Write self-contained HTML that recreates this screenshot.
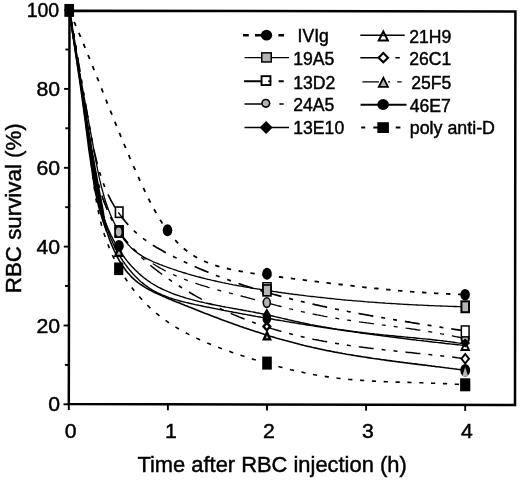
<!DOCTYPE html>
<html><head><meta charset="utf-8"><title>RBC survival</title>
<style>html,body{margin:0;padding:0;background:#fff}body{width:520px;height:480px;overflow:hidden}</style></head>
<body>
<svg width="520" height="480" viewBox="0 0 520 480" style="display:block;font-family:'Liberation Sans',Arial,sans-serif">
<rect width="520" height="480" fill="#fff"/>
<g fill="none" stroke="#000" stroke-linecap="butt" stroke-linejoin="round">
<path d="M69.3 10.8 L70.0 12.4 L70.7 14.1 L71.5 15.7 L72.2 17.3 L72.9 18.9 L73.6 20.5 L74.3 22.2 L75.0 23.8 L75.7 25.4 L76.4 27.0 L77.1 28.6 L77.8 30.2 L78.4 31.9 L79.1 33.5 L79.8 35.1 L80.5 36.7 L81.2 38.3 L81.8 39.9 L82.5 41.5 L83.2 43.1 L83.8 44.7 L84.5 46.3 L85.2 47.9 L85.8 49.5 L86.5 51.1 L87.1 52.7 L87.8 54.3 L88.4 55.9 L89.1 57.5 L89.7 59.1 L90.4 60.7 L91.0 62.3 L91.7 63.9 L92.3 65.5 L93.0 67.1 L93.6 68.7 L94.2 70.3 L94.9 71.9 L95.5 73.5 L96.1 75.1 L96.8 76.7 L97.4 78.2 L98.1 79.8 L98.7 81.4 L99.3 83.0 L100.0 84.6 L100.6 86.2 L101.2 87.8 L101.9 89.4 L102.5 91.0 L103.1 92.5 L103.8 94.1 L104.4 95.7 L105.0 97.3 L105.6 98.9 L106.3 100.5 L106.9 102.1 L107.5 103.7 L108.2 105.2 L108.8 106.8 L109.5 108.4 L110.1 110.0 L110.7 111.6 L111.4 113.2 L112.0 114.8 L112.6 116.4 L113.3 117.9 L113.9 119.5 L114.6 121.1 L115.2 122.7 L115.9 124.3 L116.5 125.9 L117.1 127.5 L117.8 129.1 L118.4 130.7 L119.1 132.3 L119.8 133.8 L120.4 135.4 L121.1 137.0 L121.7 138.6 L122.4 140.2 L123.1 141.8 L123.7 143.4 L124.4 145.0 L125.1 146.6 L125.7 148.2 L126.4 149.8 L127.1 151.4 L127.8 153.0 L128.5 154.6 L129.2 156.2 L129.8 157.8 L130.5 159.4 L131.2 161.0 L131.9 162.6 L132.6 164.2 L133.3 165.8 L134.0 167.4 L134.8 169.0 L135.5 170.6 L136.2 172.2 L136.9 173.8 L137.6 175.5 L138.4 177.1 L139.1 178.7 L139.8 180.3 L140.6 181.9 L141.3 183.5 L142.1 185.2 L142.8 186.8 L143.6 188.4 L144.3 190.0 L145.1 191.6 L145.9 193.2 L146.7 194.9 L147.4 196.5 L148.2 198.1 L149.0 199.7 L149.8 201.3 L150.7 202.9 L151.5 204.5 L152.3 206.1 L153.2 207.6 L154.0 209.2 L154.9 210.8 L155.7 212.3 L156.6 213.9 L157.5 215.4 L158.4 216.9 L159.3 218.4 L160.2 219.9 L161.2 221.4 L162.1 222.9 L163.1 224.4 L164.0 225.8 L165.0 227.2 L166.0 228.7 L167.0 230.1 L167.6 230.8" style="stroke-width:1.8;stroke-dasharray:4.4 7.6"/>
<path d="M167.6 230.8 L168.0 231.5 L169.1 232.8 L170.1 234.2 L171.2 235.5 L172.3 236.8 L173.4 238.1 L174.5 239.4 L175.7 240.6 L176.8 241.9 L178.0 243.1 L179.2 244.2 L180.4 245.4 L181.6 246.5 L182.8 247.7 L184.1 248.7 L185.4 249.8 L186.7 250.8 L188.0 251.9 L189.4 252.8 L190.7 253.8 L192.1 254.7 L193.5 255.6 L194.9 256.5 L196.4 257.3 L197.9 258.1 L199.4 258.9 L200.9 259.6 L202.4 260.4 L203.9 261.0 L205.5 261.7 L207.1 262.4 L208.7 263.0 L210.3 263.6 L211.9 264.2 L213.5 264.7 L215.2 265.3 L216.8 265.8 L218.5 266.3 L220.2 266.7 L221.9 267.2 L223.6 267.6 L225.3 268.1 L227.0 268.5 L228.7 268.9 L230.4 269.3 L232.1 269.6 L233.9 270.0 L235.6 270.4 L237.3 270.7 L239.0 271.0 L240.8 271.3 L242.5 271.6 L244.2 271.9 L246.0 272.2 L247.7 272.5 L249.4 272.8 L251.2 273.1 L252.9 273.3 L254.6 273.6 L256.3 273.9 L258.1 274.1 L259.8 274.3 L261.5 274.6 L263.3 274.8 L265.0 275.0 L266.7 275.3 L267.0 275.3" style="stroke-width:1.8;stroke-dasharray:4.4 7.6"/>
<path d="M267.0 275.3 L268.5 275.5 L270.2 275.7 L271.9 275.9 L273.7 276.2 L275.4 276.4 L277.1 276.6 L278.8 276.8 L280.6 277.0 L282.3 277.3 L284.0 277.5 L285.8 277.7 L287.5 277.9 L289.2 278.1 L290.9 278.3 L292.7 278.6 L294.4 278.8 L296.1 279.0 L297.8 279.2 L299.5 279.4 L301.3 279.7 L303.0 279.9 L304.7 280.1 L306.4 280.3 L308.2 280.5 L309.9 280.7 L311.6 281.0 L313.3 281.2 L315.0 281.4 L316.8 281.6 L318.5 281.8 L320.2 282.0 L321.9 282.2 L323.6 282.4 L325.3 282.7 L327.1 282.9 L328.8 283.1 L330.5 283.3 L332.2 283.5 L333.9 283.7 L335.6 283.9 L337.4 284.1 L339.1 284.3 L340.8 284.5 L342.5 284.7 L344.2 284.9 L346.0 285.1 L347.7 285.3 L349.4 285.5 L351.1 285.7 L352.8 285.9 L354.5 286.1 L356.3 286.3 L358.0 286.5 L359.7 286.7 L361.4 286.9 L363.1 287.1 L364.8 287.3 L366.6 287.5 L368.3 287.6 L370.0 287.8 L371.7 288.0 L373.4 288.2 L375.1 288.4 L376.9 288.5 L378.6 288.7 L380.3 288.9 L382.0 289.1 L383.7 289.2 L385.5 289.4 L387.2 289.6 L388.9 289.7 L390.6 289.9 L392.3 290.0 L394.1 290.2 L395.8 290.4 L397.5 290.5 L399.2 290.7 L401.0 290.8 L402.7 291.0 L404.4 291.1 L406.1 291.2 L407.9 291.4 L409.6 291.5 L411.3 291.7 L413.0 291.8 L414.8 291.9 L416.5 292.0 L418.2 292.2 L420.0 292.3 L421.7 292.4 L423.4 292.5 L425.2 292.6 L426.9 292.8 L428.6 292.9 L430.4 293.0 L432.1 293.1 L433.8 293.2 L435.6 293.3 L437.3 293.4 L439.0 293.5 L440.8 293.6 L442.5 293.6 L444.3 293.7 L446.0 293.8 L447.7 293.9 L449.5 294.0 L451.2 294.0 L453.0 294.1 L454.7 294.2 L456.5 294.2 L458.2 294.3 L460.0 294.3 L461.7 294.4 L463.5 294.4 L465.2 294.5" style="stroke-width:1.8;stroke-dasharray:4.4 7.6"/>
<path d="M69.3 10.8 L69.6 12.8 L69.9 14.8 L70.3 16.9 L70.6 18.9 L70.9 20.9 L71.2 22.9 L71.5 24.9 L71.8 26.9 L72.2 28.9 L72.5 30.9 L72.8 32.9 L73.1 34.9 L73.4 36.9 L73.8 38.9 L74.1 40.9 L74.4 42.9 L74.7 44.9 L75.0 46.9 L75.3 48.9 L75.7 50.9 L76.0 52.9 L76.3 54.9 L76.6 56.8 L76.9 58.8 L77.2 60.8 L77.5 62.8 L77.9 64.8 L78.2 66.8 L78.5 68.8 L78.8 70.7 L79.1 72.7 L79.4 74.7 L79.7 76.7 L80.0 78.7 L80.3 80.7 L80.6 82.7 L80.9 84.6 L81.2 86.6 L81.5 88.6 L81.8 90.6 L82.1 92.6 L82.4 94.6 L82.7 96.5 L83.0 98.5 L83.3 100.5 L83.6 102.5 L83.8 104.5 L84.1 106.5 L84.4 108.5 L84.7 110.5 L85.0 112.5 L85.2 114.5 L85.5 116.4 L85.8 118.4 L86.1 120.4 L86.3 122.4 L86.6 124.4 L86.9 126.4 L87.1 128.4 L87.4 130.4 L87.6 132.4 L87.9 134.5 L88.1 136.5 L88.4 138.5 L88.6 140.5 L88.9 142.5 L89.1 144.5 L89.4 146.5 L89.6 148.6 L89.8 150.6 L90.1 152.6 L90.3 154.6 L90.5 156.7 L90.8 158.7 L91.0 160.7 L91.2 162.7 L91.4 164.8 L91.7 166.8 L91.9 168.8 L92.1 170.9 L92.4 172.9 L92.6 174.9 L92.9 177.0 L93.1 179.0 L93.4 181.0 L93.6 183.1 L93.9 185.1 L94.2 187.1 L94.5 189.1 L94.8 191.2 L95.1 193.2 L95.4 195.2 L95.7 197.2 L96.0 199.2 L96.4 201.2 L96.7 203.3 L97.1 205.3 L97.5 207.3 L97.9 209.3 L98.3 211.2 L98.7 213.2 L99.1 215.2 L99.6 217.2 L100.0 219.2 L100.5 221.1 L101.0 223.1 L101.5 225.0 L102.1 227.0 L102.6 228.9 L103.2 230.9 L103.8 232.8 L104.4 234.7 L105.1 236.6 L105.7 238.6 L106.4 240.5 L107.1 242.4 L107.8 244.2 L108.6 246.1 L109.3 248.0 L110.1 249.8 L110.9 251.7 L111.7 253.5 L112.5 255.4 L113.4 257.2 L114.3 259.0 L115.2 260.8 L116.1 262.6 L117.0 264.4 L118.0 266.1 L118.8 267.6" style="stroke-width:1.6;stroke-dasharray:4.2 7.65"/>
<path d="M118.8 267.6 L118.9 267.9 L119.9 269.6 L120.9 271.4 L122.0 273.1 L123.0 274.8 L124.1 276.5 L125.2 278.1 L126.3 279.8 L127.4 281.5 L128.5 283.1 L129.7 284.7 L130.9 286.3 L132.1 287.9 L133.3 289.5 L134.5 291.1 L135.8 292.6 L137.1 294.1 L138.4 295.6 L139.7 297.1 L141.0 298.6 L142.3 300.1 L143.7 301.5 L145.1 302.9 L146.5 304.4 L147.9 305.7 L149.3 307.1 L150.8 308.5 L152.3 309.8 L153.8 311.1 L155.3 312.4 L156.8 313.7 L158.3 314.9 L159.9 316.2 L161.5 317.4 L163.1 318.6 L164.7 319.8 L166.3 320.9 L168.0 322.1 L169.6 323.2 L171.3 324.3 L173.0 325.4 L174.7 326.4 L176.4 327.5 L178.1 328.5 L179.9 329.5 L181.6 330.5 L183.4 331.5 L185.2 332.5 L186.9 333.4 L188.7 334.4 L190.6 335.3 L192.4 336.2 L194.2 337.1 L196.0 338.0 L197.9 338.8 L199.8 339.7 L201.6 340.5 L203.5 341.3 L205.4 342.2 L207.3 343.0 L209.2 343.7 L211.1 344.5 L213.0 345.3 L214.9 346.1 L216.8 346.8 L218.7 347.5 L220.7 348.3 L222.6 349.0 L224.5 349.7 L226.5 350.4 L228.4 351.1 L230.4 351.7 L232.3 352.4 L234.3 353.1 L236.2 353.7 L238.2 354.4 L240.2 355.0 L242.1 355.7 L244.1 356.3 L246.0 356.9 L248.0 357.5 L250.0 358.2 L251.9 358.8 L253.9 359.4 L255.8 360.0 L257.8 360.5 L259.7 361.1 L261.7 361.7 L263.6 362.3 L265.6 362.9 L267.0 363.3" style="stroke-width:1.6;stroke-dasharray:4.2 7.65"/>
<path d="M267.0 363.3 L267.5 363.4 L269.4 364.0 L271.4 364.5 L273.3 365.1 L275.3 365.6 L277.2 366.2 L279.2 366.7 L281.1 367.2 L283.0 367.7 L285.0 368.2 L286.9 368.7 L288.9 369.2 L290.8 369.7 L292.7 370.1 L294.7 370.6 L296.6 371.0 L298.6 371.5 L300.5 371.9 L302.5 372.3 L304.4 372.8 L306.4 373.2 L308.3 373.6 L310.3 373.9 L312.2 374.3 L314.2 374.7 L316.2 375.0 L318.1 375.4 L320.1 375.7 L322.1 376.0 L324.0 376.3 L326.0 376.6 L328.0 376.9 L330.0 377.2 L331.9 377.5 L333.9 377.7 L335.9 378.0 L337.9 378.2 L339.9 378.5 L341.9 378.7 L343.9 378.9 L345.9 379.1 L347.9 379.3 L349.9 379.5 L351.9 379.6 L353.9 379.8 L355.9 380.0 L357.9 380.1 L359.9 380.3 L361.9 380.4 L363.9 380.5 L365.9 380.7 L368.0 380.8 L370.0 380.9 L372.0 381.0 L374.0 381.1 L376.0 381.2 L378.1 381.3 L380.1 381.4 L382.1 381.5 L384.1 381.6 L386.2 381.7 L388.2 381.8 L390.2 381.8 L392.2 381.9 L394.3 382.0 L396.3 382.1 L398.3 382.1 L400.4 382.2 L402.4 382.2 L404.4 382.3 L406.5 382.4 L408.5 382.4 L410.5 382.5 L412.5 382.5 L414.6 382.6 L416.6 382.7 L418.6 382.7 L420.7 382.8 L422.7 382.8 L424.7 382.9 L426.8 383.0 L428.8 383.0 L430.8 383.1 L432.9 383.2 L434.9 383.2 L436.9 383.3 L438.9 383.4 L441.0 383.5 L443.0 383.6 L445.0 383.6 L447.0 383.7 L449.1 383.8 L451.1 383.9 L453.1 384.0 L455.1 384.2 L457.1 384.3 L459.2 384.4 L461.2 384.5 L463.2 384.7 L465.2 384.8" style="stroke-width:1.6;stroke-dasharray:4.2 7.65"/>
<path d="M69.3 10.8 L69.7 12.7 L70.1 14.5 L70.5 16.4 L70.9 18.2 L71.3 20.1 L71.7 22.0 L72.1 23.8 L72.4 25.7 L72.8 27.6 L73.1 29.4 L73.5 31.3 L73.8 33.2 L74.1 35.0 L74.4 36.9 L74.7 38.8 L75.0 40.7 L75.3 42.5 L75.6 44.4 L75.9 46.3 L76.2 48.2 L76.5 50.0 L76.8 51.9 L77.0 53.8 L77.3 55.7 L77.6 57.6 L77.8 59.5 L78.1 61.3 L78.3 63.2 L78.6 65.1 L78.8 67.0 L79.0 68.9 L79.3 70.8 L79.5 72.7 L79.8 74.6 L80.0 76.4 L80.2 78.3 L80.5 80.2 L80.7 82.1 L80.9 84.0 L81.1 85.9 L81.4 87.8 L81.6 89.7 L81.8 91.6 L82.1 93.5 L82.3 95.4 L82.5 97.3 L82.8 99.2 L83.0 101.1 L83.2 103.0 L83.5 104.9 L83.7 106.8 L83.9 108.7 L84.2 110.6 L84.4 112.5 L84.7 114.4 L84.9 116.3 L85.2 118.2 L85.4 120.1 L85.7 122.0 L86.0 123.9 L86.2 125.8 L86.5 127.7 L86.8 129.6 L87.1 131.5 L87.4 133.4 L87.7 135.3 L88.0 137.2 L88.3 139.1 L88.6 141.0 L88.9 142.9 L89.2 144.8 L89.6 146.7 L89.9 148.6 L90.3 150.5 L90.6 152.4 L91.0 154.2 L91.4 156.1 L91.7 158.0 L92.1 159.9 L92.5 161.8 L92.9 163.7 L93.4 165.6 L93.8 167.5 L94.2 169.4 L94.7 171.2 L95.1 173.1 L95.6 175.0 L96.1 176.9 L96.6 178.7 L97.1 180.6 L97.6 182.4 L98.2 184.3 L98.7 186.1 L99.3 187.9 L99.8 189.8 L100.4 191.6 L101.0 193.4 L101.7 195.2 L102.3 197.0 L102.9 198.8 L103.6 200.5 L104.3 202.3 L105.0 204.1 L105.7 205.8 L106.4 207.5 L107.2 209.3 L108.0 211.0 L108.8 212.7 L109.6 214.4 L110.4 216.1 L111.2 217.8 L112.1 219.4 L113.0 221.1 L113.9 222.7 L114.8 224.3 L115.8 225.9 L116.7 227.5 L117.7 229.1 L118.7 230.7 L118.8 230.7" style="stroke-width:1.5;stroke-dasharray:15 8 4 8 4 8"/>
<path d="M118.8 230.7 L119.8 232.2 L120.8 233.7 L121.9 235.3 L123.0 236.8 L124.1 238.3 L125.3 239.7 L126.4 241.2 L127.6 242.6 L128.8 244.1 L130.0 245.5 L131.3 246.9 L132.5 248.3 L133.8 249.7 L135.1 251.0 L136.4 252.4 L137.8 253.7 L139.1 255.1 L140.5 256.4 L141.8 257.7 L143.2 259.0 L144.6 260.2 L146.0 261.5 L147.5 262.8 L148.9 264.0 L150.4 265.2 L151.8 266.5 L153.3 267.7 L154.8 268.9 L156.3 270.0 L157.8 271.2 L159.3 272.4 L160.9 273.5 L162.4 274.7 L164.0 275.8 L165.5 276.9 L167.1 278.0 L168.7 279.1 L170.3 280.2 L171.9 281.3 L173.5 282.4 L175.1 283.4 L176.7 284.5 L178.3 285.5 L179.9 286.5 L181.6 287.6 L183.2 288.6 L184.8 289.6 L186.5 290.6 L188.1 291.6 L189.8 292.5 L191.4 293.5 L193.1 294.5 L194.7 295.4 L196.4 296.4 L198.1 297.3 L199.8 298.2 L201.4 299.1 L203.1 300.0 L204.8 300.9 L206.5 301.8 L208.2 302.7 L209.9 303.6 L211.6 304.4 L213.3 305.3 L215.1 306.1 L216.8 307.0 L218.5 307.8 L220.2 308.6 L222.0 309.4 L223.7 310.2 L225.4 311.0 L227.2 311.8 L228.9 312.6 L230.7 313.4 L232.4 314.1 L234.2 314.9 L235.9 315.6 L237.7 316.3 L239.4 317.1 L241.2 317.8 L243.0 318.5 L244.8 319.2 L246.5 319.9 L248.3 320.5 L250.1 321.2 L251.9 321.9 L253.7 322.5 L255.5 323.2 L257.3 323.8 L259.1 324.4 L260.9 325.0 L262.7 325.7 L264.5 326.3 L266.3 326.8 L267.0 327.1" style="stroke-width:1.5;stroke-dasharray:15 8 4 8 4 8"/>
<path d="M267.0 327.1 L268.1 327.4 L269.9 328.0 L271.7 328.6 L273.5 329.1 L275.4 329.7 L277.2 330.2 L279.0 330.8 L280.8 331.3 L282.7 331.8 L284.5 332.3 L286.3 332.8 L288.2 333.3 L290.0 333.8 L291.8 334.3 L293.7 334.7 L295.5 335.2 L297.4 335.6 L299.2 336.1 L301.1 336.5 L302.9 336.9 L304.8 337.4 L306.6 337.8 L308.5 338.2 L310.3 338.6 L312.2 339.0 L314.1 339.4 L315.9 339.7 L317.8 340.1 L319.6 340.5 L321.5 340.8 L323.4 341.2 L325.2 341.5 L327.1 341.8 L329.0 342.2 L330.9 342.5 L332.7 342.8 L334.6 343.1 L336.5 343.4 L338.4 343.7 L340.2 344.0 L342.1 344.3 L344.0 344.6 L345.9 344.9 L347.8 345.2 L349.6 345.5 L351.5 345.7 L353.4 346.0 L355.3 346.3 L357.2 346.5 L359.1 346.8 L361.0 347.0 L362.8 347.3 L364.7 347.5 L366.6 347.7 L368.5 348.0 L370.4 348.2 L372.3 348.4 L374.2 348.7 L376.1 348.9 L378.0 349.1 L379.9 349.3 L381.8 349.5 L383.7 349.8 L385.6 350.0 L387.5 350.2 L389.4 350.4 L391.2 350.6 L393.1 350.8 L395.0 351.0 L396.9 351.2 L398.8 351.4 L400.7 351.6 L402.6 351.8 L404.5 352.0 L406.4 352.2 L408.3 352.4 L410.2 352.6 L412.1 352.8 L414.0 353.0 L415.9 353.2 L417.8 353.4 L419.7 353.6 L421.6 353.8 L423.5 354.0 L425.4 354.2 L427.3 354.4 L429.2 354.6 L431.1 354.8 L433.0 355.0 L434.9 355.2 L436.8 355.4 L438.7 355.6 L440.6 355.8 L442.5 356.0 L444.4 356.2 L446.3 356.4 L448.2 356.6 L450.1 356.9 L452.0 357.1 L453.9 357.3 L455.8 357.5 L457.6 357.8 L459.5 358.0 L461.4 358.2 L463.3 358.5 L465.2 358.7" style="stroke-width:1.5;stroke-dasharray:15 8 4 8 4 8"/>
<path d="M69.3 10.8 L69.6 12.7 L70.0 14.6 L70.3 16.4 L70.6 18.3 L70.9 20.2 L71.3 22.0 L71.6 23.9 L71.9 25.8 L72.2 27.6 L72.5 29.5 L72.8 31.4 L73.1 33.2 L73.4 35.1 L73.7 36.9 L74.0 38.8 L74.3 40.6 L74.6 42.5 L74.9 44.3 L75.2 46.2 L75.5 48.0 L75.8 49.9 L76.1 51.7 L76.4 53.5 L76.6 55.4 L76.9 57.2 L77.2 59.0 L77.5 60.9 L77.8 62.7 L78.0 64.6 L78.3 66.4 L78.6 68.2 L78.9 70.1 L79.1 71.9 L79.4 73.7 L79.7 75.6 L80.0 77.4 L80.2 79.2 L80.5 81.1 L80.8 82.9 L81.1 84.7 L81.3 86.5 L81.6 88.4 L81.9 90.2 L82.2 92.0 L82.4 93.9 L82.7 95.7 L83.0 97.5 L83.3 99.4 L83.5 101.2 L83.8 103.0 L84.1 104.9 L84.4 106.7 L84.7 108.6 L85.0 110.4 L85.2 112.2 L85.5 114.1 L85.8 115.9 L86.1 117.8 L86.4 119.6 L86.7 121.4 L87.0 123.3 L87.3 125.1 L87.6 127.0 L87.9 128.8 L88.2 130.7 L88.5 132.5 L88.8 134.4 L89.1 136.3 L89.4 138.1 L89.7 140.0 L90.1 141.8 L90.4 143.7 L90.7 145.6 L91.0 147.4 L91.4 149.3 L91.7 151.2 L92.0 153.1 L92.4 154.9 L92.7 156.8 L93.1 158.7 L93.4 160.6 L93.8 162.4 L94.2 164.3 L94.6 166.2 L94.9 168.1 L95.3 170.0 L95.7 171.8 L96.2 173.7 L96.6 175.6 L97.0 177.4 L97.5 179.3 L97.9 181.2 L98.4 183.0 L98.9 184.9 L99.4 186.7 L99.9 188.6 L100.4 190.4 L100.9 192.2 L101.5 194.1 L102.1 195.9 L102.6 197.7 L103.3 199.5 L103.9 201.3 L104.5 203.1 L105.2 204.8 L105.9 206.6 L106.6 208.4 L107.3 210.1 L108.0 211.8 L108.8 213.6 L109.5 215.3 L110.3 217.0 L111.2 218.6 L112.0 220.3 L112.9 221.9 L113.8 223.6 L114.7 225.2 L115.6 226.7 L116.6 228.3 L117.6 229.9 L118.6 231.4 L118.8 231.6" style="stroke-width:1.3;stroke-dasharray:15 8 4 8 4 8"/>
<path d="M118.8 231.6 L119.7 232.9 L120.7 234.4 L121.8 235.8 L122.9 237.3 L124.1 238.7 L125.2 240.1 L126.4 241.5 L127.7 242.8 L128.9 244.1 L130.2 245.5 L131.4 246.7 L132.7 248.0 L134.1 249.3 L135.4 250.5 L136.8 251.7 L138.2 252.9 L139.6 254.1 L141.0 255.2 L142.4 256.4 L143.9 257.5 L145.4 258.6 L146.9 259.6 L148.4 260.7 L149.9 261.7 L151.5 262.7 L153.0 263.7 L154.6 264.7 L156.2 265.7 L157.8 266.6 L159.4 267.6 L161.0 268.5 L162.7 269.4 L164.3 270.3 L166.0 271.1 L167.7 272.0 L169.3 272.8 L171.0 273.6 L172.7 274.4 L174.5 275.2 L176.2 275.9 L177.9 276.7 L179.6 277.4 L181.4 278.1 L183.1 278.8 L184.9 279.5 L186.7 280.2 L188.4 280.9 L190.2 281.5 L192.0 282.1 L193.8 282.7 L195.6 283.3 L197.4 283.9 L199.2 284.5 L201.0 285.1 L202.8 285.6 L204.6 286.2 L206.4 286.7 L208.2 287.3 L210.0 287.8 L211.8 288.3 L213.7 288.8 L215.5 289.3 L217.3 289.8 L219.1 290.3 L221.0 290.8 L222.8 291.3 L224.6 291.7 L226.5 292.2 L228.3 292.7 L230.1 293.2 L231.9 293.6 L233.8 294.1 L235.6 294.6 L237.4 295.0 L239.3 295.5 L241.1 296.0 L242.9 296.5 L244.7 296.9 L246.5 297.4 L248.4 297.9 L250.2 298.4 L252.0 298.9 L253.8 299.3 L255.6 299.8 L257.4 300.3 L259.2 300.8 L261.0 301.3 L262.8 301.7 L264.7 302.2 L266.5 302.7 L267.0 302.9" style="stroke-width:1.3;stroke-dasharray:15 8 4 8 4 8"/>
<path d="M267.0 302.9 L268.3 303.2 L270.1 303.7 L271.9 304.1 L273.7 304.6 L275.5 305.1 L277.3 305.6 L279.1 306.0 L280.9 306.5 L282.7 307.0 L284.5 307.4 L286.3 307.9 L288.1 308.3 L289.9 308.8 L291.8 309.2 L293.6 309.7 L295.4 310.1 L297.2 310.5 L299.0 311.0 L300.8 311.4 L302.6 311.8 L304.4 312.2 L306.3 312.6 L308.1 313.0 L309.9 313.4 L311.7 313.8 L313.6 314.2 L315.4 314.5 L317.2 314.9 L319.0 315.2 L320.9 315.6 L322.7 315.9 L324.5 316.3 L326.4 316.6 L328.2 316.9 L330.1 317.3 L331.9 317.6 L333.7 317.9 L335.6 318.2 L337.4 318.5 L339.3 318.8 L341.1 319.1 L343.0 319.4 L344.8 319.7 L346.7 320.0 L348.5 320.2 L350.4 320.5 L352.2 320.8 L354.1 321.1 L356.0 321.3 L357.8 321.6 L359.7 321.9 L361.5 322.1 L363.4 322.4 L365.2 322.6 L367.1 322.9 L369.0 323.1 L370.8 323.4 L372.7 323.6 L374.5 323.9 L376.4 324.1 L378.3 324.4 L380.1 324.6 L382.0 324.9 L383.9 325.1 L385.7 325.4 L387.6 325.6 L389.4 325.9 L391.3 326.1 L393.2 326.4 L395.0 326.6 L396.9 326.9 L398.8 327.1 L400.6 327.4 L402.5 327.6 L404.3 327.9 L406.2 328.2 L408.1 328.4 L409.9 328.7 L411.8 329.0 L413.6 329.2 L415.5 329.5 L417.4 329.8 L419.2 330.1 L421.1 330.3 L422.9 330.6 L424.8 330.9 L426.6 331.2 L428.5 331.5 L430.3 331.8 L432.2 332.1 L434.0 332.4 L435.9 332.8 L437.7 333.1 L439.6 333.4 L441.4 333.8 L443.2 334.1 L445.1 334.4 L446.9 334.8 L448.8 335.2 L450.6 335.5 L452.4 335.9 L454.3 336.3 L456.1 336.7 L457.9 337.0 L459.7 337.4 L461.6 337.9 L463.4 338.3 L465.2 338.7" style="stroke-width:1.3;stroke-dasharray:15 8 4 8 4 8"/>
<path d="M69.3 10.8 L69.6 12.6 L70.0 14.4 L70.3 16.3 L70.6 18.1 L71.0 19.9 L71.3 21.7 L71.6 23.5 L72.0 25.3 L72.3 27.1 L72.6 28.9 L72.9 30.8 L73.2 32.6 L73.6 34.4 L73.9 36.2 L74.2 38.0 L74.5 39.8 L74.8 41.6 L75.1 43.4 L75.5 45.1 L75.8 46.9 L76.1 48.7 L76.4 50.5 L76.7 52.3 L77.0 54.1 L77.3 55.9 L77.6 57.7 L77.9 59.5 L78.2 61.3 L78.5 63.1 L78.8 64.8 L79.2 66.6 L79.5 68.4 L79.8 70.2 L80.1 72.0 L80.4 73.8 L80.7 75.6 L81.0 77.3 L81.3 79.1 L81.6 80.9 L81.9 82.7 L82.2 84.5 L82.5 86.3 L82.8 88.1 L83.1 89.9 L83.4 91.6 L83.7 93.4 L84.0 95.2 L84.3 97.0 L84.6 98.8 L84.9 100.6 L85.3 102.4 L85.6 104.2 L85.9 106.0 L86.2 107.8 L86.5 109.6 L86.8 111.4 L87.1 113.2 L87.4 115.0 L87.8 116.8 L88.1 118.6 L88.4 120.4 L88.7 122.2 L89.0 124.0 L89.4 125.8 L89.7 127.6 L90.0 129.4 L90.3 131.2 L90.7 133.0 L91.0 134.8 L91.3 136.7 L91.7 138.5 L92.0 140.3 L92.4 142.1 L92.7 143.9 L93.1 145.7 L93.5 147.5 L93.9 149.4 L94.2 151.2 L94.6 153.0 L95.0 154.8 L95.5 156.6 L95.9 158.4 L96.3 160.2 L96.8 162.0 L97.2 163.7 L97.7 165.5 L98.2 167.3 L98.7 169.1 L99.2 170.8 L99.7 172.6 L100.3 174.3 L100.8 176.1 L101.4 177.8 L102.0 179.6 L102.6 181.3 L103.2 183.0 L103.9 184.7 L104.5 186.4 L105.2 188.1 L105.9 189.8 L106.7 191.4 L107.4 193.1 L108.2 194.8 L109.0 196.4 L109.8 198.0 L110.6 199.7 L111.5 201.3 L112.4 202.9 L113.3 204.4 L114.2 206.0 L115.2 207.6 L116.1 209.1 L117.1 210.6 L118.1 212.1 L118.9 213.2" style="stroke-width:1.7;stroke-dasharray:15 8 4 8 4 8"/>
<path d="M118.9 213.2 L119.2 213.6 L120.2 215.1 L121.3 216.6 L122.4 218.0 L123.6 219.4 L124.7 220.8 L125.9 222.2 L127.1 223.6 L128.3 224.9 L129.5 226.3 L130.8 227.6 L132.0 228.8 L133.3 230.1 L134.6 231.3 L136.0 232.6 L137.3 233.7 L138.7 234.9 L140.1 236.1 L141.5 237.2 L142.9 238.3 L144.4 239.4 L145.9 240.4 L147.3 241.5 L148.8 242.5 L150.3 243.5 L151.9 244.5 L153.4 245.5 L155.0 246.4 L156.5 247.4 L158.1 248.3 L159.7 249.2 L161.3 250.1 L162.9 251.0 L164.5 251.9 L166.1 252.8 L167.7 253.6 L169.3 254.5 L170.9 255.3 L172.6 256.1 L174.2 257.0 L175.9 257.8 L177.5 258.6 L179.1 259.4 L180.8 260.2 L182.4 261.0 L184.1 261.7 L185.8 262.5 L187.4 263.3 L189.1 264.0 L190.7 264.8 L192.4 265.5 L194.1 266.3 L195.8 267.0 L197.4 267.8 L199.1 268.5 L200.8 269.2 L202.5 269.9 L204.1 270.6 L205.8 271.3 L207.5 272.0 L209.2 272.7 L210.9 273.4 L212.6 274.0 L214.3 274.7 L216.0 275.4 L217.7 276.0 L219.4 276.7 L221.1 277.3 L222.8 277.9 L224.5 278.6 L226.2 279.2 L228.0 279.8 L229.7 280.4 L231.4 281.1 L233.1 281.7 L234.8 282.3 L236.6 282.9 L238.3 283.4 L240.0 284.0 L241.7 284.6 L243.5 285.2 L245.2 285.7 L246.9 286.3 L248.7 286.9 L250.4 287.4 L252.2 288.0 L253.9 288.5 L255.6 289.1 L257.4 289.6 L259.1 290.1 L260.9 290.6 L262.6 291.2 L264.4 291.7 L266.1 292.2 L267.0 292.4" style="stroke-width:1.7;stroke-dasharray:15 8 4 8 4 8"/>
<path d="M267.0 292.4 L267.9 292.7 L269.7 293.2 L271.4 293.7 L273.2 294.2 L274.9 294.7 L276.7 295.1 L278.5 295.6 L280.2 296.1 L282.0 296.6 L283.8 297.0 L285.5 297.5 L287.3 298.0 L289.1 298.4 L290.8 298.9 L292.6 299.3 L294.4 299.8 L296.2 300.2 L298.0 300.6 L299.7 301.1 L301.5 301.5 L303.3 301.9 L305.1 302.3 L306.9 302.8 L308.6 303.2 L310.4 303.6 L312.2 304.0 L314.0 304.4 L315.8 304.8 L317.6 305.2 L319.4 305.6 L321.2 306.0 L322.9 306.4 L324.7 306.7 L326.5 307.1 L328.3 307.5 L330.1 307.9 L331.9 308.3 L333.7 308.6 L335.5 309.0 L337.3 309.4 L339.1 309.7 L340.9 310.1 L342.7 310.4 L344.5 310.8 L346.3 311.1 L348.1 311.5 L349.9 311.8 L351.7 312.2 L353.5 312.5 L355.3 312.9 L357.1 313.2 L358.9 313.5 L360.7 313.9 L362.5 314.2 L364.3 314.5 L366.1 314.9 L367.9 315.2 L369.7 315.5 L371.5 315.8 L373.4 316.1 L375.2 316.5 L377.0 316.8 L378.8 317.1 L380.6 317.4 L382.4 317.7 L384.2 318.0 L386.0 318.3 L387.8 318.6 L389.6 318.9 L391.4 319.2 L393.2 319.5 L395.0 319.8 L396.8 320.1 L398.6 320.4 L400.4 320.7 L402.2 321.0 L404.1 321.3 L405.9 321.6 L407.7 321.9 L409.5 322.2 L411.3 322.5 L413.1 322.8 L414.9 323.1 L416.7 323.4 L418.5 323.7 L420.3 323.9 L422.1 324.2 L423.9 324.5 L425.7 324.8 L427.5 325.1 L429.3 325.4 L431.1 325.7 L432.9 325.9 L434.7 326.2 L436.5 326.5 L438.3 326.8 L440.1 327.1 L441.9 327.4 L443.7 327.6 L445.5 327.9 L447.3 328.2 L449.1 328.5 L450.9 328.8 L452.7 329.0 L454.4 329.3 L456.2 329.6 L458.0 329.9 L459.8 330.2 L461.6 330.5 L463.4 330.8 L465.2 331.0" style="stroke-width:1.7;stroke-dasharray:15 8 4 8 4 8"/>
<path d="M69.3 10.8 L69.6 12.6 L69.9 14.5 L70.2 16.3 L70.4 18.1 L70.7 19.9 L71.0 21.8 L71.3 23.6 L71.6 25.4 L71.9 27.3 L72.2 29.1 L72.5 30.9 L72.8 32.7 L73.1 34.6 L73.4 36.4 L73.7 38.2 L74.0 40.0 L74.3 41.9 L74.6 43.7 L74.9 45.5 L75.3 47.3 L75.6 49.2 L75.9 51.0 L76.2 52.8 L76.5 54.6 L76.8 56.5 L77.2 58.3 L77.5 60.1 L77.8 61.9 L78.1 63.8 L78.4 65.6 L78.8 67.4 L79.1 69.2 L79.4 71.1 L79.7 72.9 L80.1 74.7 L80.4 76.5 L80.7 78.3 L81.0 80.2 L81.4 82.0 L81.7 83.8 L82.0 85.6 L82.4 87.5 L82.7 89.3 L83.0 91.1 L83.4 92.9 L83.7 94.7 L84.0 96.6 L84.4 98.4 L84.7 100.2 L85.0 102.0 L85.4 103.8 L85.7 105.7 L86.0 107.5 L86.4 109.3 L86.7 111.1 L87.0 113.0 L87.4 114.8 L87.7 116.6 L88.0 118.4 L88.4 120.2 L88.7 122.1 L89.1 123.9 L89.4 125.7 L89.7 127.5 L90.1 129.3 L90.4 131.2 L90.7 133.0 L91.1 134.8 L91.4 136.6 L91.8 138.4 L92.1 140.3 L92.4 142.1 L92.8 143.9 L93.1 145.7 L93.4 147.5 L93.8 149.4 L94.1 151.2 L94.4 153.0 L94.8 154.8 L95.1 156.6 L95.4 158.5 L95.8 160.3 L96.1 162.1 L96.5 163.9 L96.8 165.7 L97.2 167.5 L97.5 169.3 L97.9 171.2 L98.3 173.0 L98.7 174.8 L99.0 176.6 L99.4 178.4 L99.8 180.2 L100.3 182.0 L100.7 183.8 L101.1 185.6 L101.6 187.3 L102.0 189.1 L102.5 190.9 L103.0 192.7 L103.5 194.5 L104.0 196.2 L104.5 198.0 L105.1 199.8 L105.6 201.5 L106.2 203.3 L106.8 205.0 L107.4 206.8 L108.1 208.5 L108.7 210.3 L109.4 212.0 L110.1 213.7 L110.8 215.4 L111.5 217.1 L112.3 218.9 L113.1 220.6 L113.9 222.3 L114.7 223.9 L115.5 225.6 L116.4 227.3 L117.3 228.9 L118.2 230.6 L119.2 232.2 L120.2 233.8 L121.2 235.4 L122.2 236.9 L123.3 238.5 L124.4 240.0 L125.6 241.4 L126.7 242.9 L127.9 244.3 L129.2 245.6 L130.4 246.9 L131.7 248.2 L133.1 249.5 L134.5 250.6 L135.9 251.8 L137.3 252.9 L138.8 253.9 L140.3 254.9 L141.8 255.9 L143.4 256.8 L145.0 257.7 L146.6 258.6 L148.3 259.4 L149.9 260.2 L151.6 261.0 L153.3 261.8 L155.0 262.5 L156.7 263.2 L158.4 263.9 L160.2 264.6 L161.9 265.2 L163.6 265.9 L165.4 266.5 L167.1 267.2 L168.9 267.8 L170.6 268.4 L172.4 269.0 L174.1 269.6 L175.9 270.2 L177.6 270.8 L179.4 271.4 L181.2 271.9 L182.9 272.5 L184.7 273.0 L186.5 273.5 L188.3 274.1 L190.0 274.6 L191.8 275.1 L193.6 275.6 L195.4 276.1 L197.2 276.6 L199.0 277.0 L200.8 277.5 L202.5 278.0 L204.3 278.4 L206.1 278.9 L207.9 279.3 L209.7 279.7 L211.5 280.2 L213.4 280.6 L215.2 281.0 L217.0 281.4 L218.8 281.8 L220.6 282.2 L222.4 282.6 L224.2 282.9 L226.0 283.3 L227.9 283.7 L229.7 284.1 L231.5 284.4 L233.3 284.8 L235.1 285.1 L237.0 285.5 L238.8 285.8 L240.6 286.1 L242.4 286.4 L244.3 286.8 L246.1 287.1 L247.9 287.4 L249.7 287.7 L251.6 288.0 L253.4 288.3 L255.2 288.6 L257.0 288.9 L258.9 289.2 L260.7 289.5 L262.5 289.8 L264.4 290.1 L266.2 290.4 L268.0 290.6 L269.9 290.9 L271.7 291.2 L273.5 291.5 L275.4 291.7 L277.2 292.0 L279.0 292.3 L280.9 292.5 L282.7 292.8 L284.5 293.0 L286.4 293.3 L288.2 293.5 L290.0 293.8 L291.8 294.0 L293.7 294.3 L295.5 294.5 L297.4 294.7 L299.2 295.0 L301.0 295.2 L302.9 295.4 L304.7 295.6 L306.5 295.9 L308.4 296.1 L310.2 296.3 L312.0 296.5 L313.9 296.7 L315.7 296.9 L317.5 297.1 L319.4 297.3 L321.2 297.5 L323.0 297.7 L324.9 297.9 L326.7 298.1 L328.6 298.3 L330.4 298.5 L332.2 298.7 L334.1 298.9 L335.9 299.1 L337.7 299.3 L339.6 299.4 L341.4 299.6 L343.3 299.8 L345.1 300.0 L346.9 300.1 L348.8 300.3 L350.6 300.4 L352.5 300.6 L354.3 300.8 L356.1 300.9 L358.0 301.1 L359.8 301.2 L361.7 301.4 L363.5 301.5 L365.3 301.7 L367.2 301.8 L369.0 302.0 L370.9 302.1 L372.7 302.2 L374.6 302.4 L376.4 302.5 L378.2 302.6 L380.1 302.8 L381.9 302.9 L383.8 303.0 L385.6 303.2 L387.5 303.3 L389.3 303.4 L391.2 303.5 L393.0 303.6 L394.8 303.7 L396.7 303.9 L398.5 304.0 L400.4 304.1 L402.2 304.2 L404.1 304.3 L405.9 304.4 L407.8 304.5 L409.6 304.6 L411.5 304.7 L413.3 304.8 L415.2 304.9 L417.0 305.0 L418.9 305.1 L420.7 305.1 L422.6 305.2 L424.4 305.3 L426.3 305.4 L428.1 305.5 L430.0 305.6 L431.8 305.6 L433.7 305.7 L435.5 305.8 L437.4 305.9 L439.2 305.9 L441.1 306.0 L442.9 306.1 L444.8 306.1 L446.6 306.2 L448.5 306.3 L450.4 306.3 L452.2 306.4 L454.1 306.5 L455.9 306.5 L457.8 306.6 L459.6 306.6 L461.5 306.7 L463.3 306.7 L465.2 306.8" style="stroke-width:1.3"/>
<path d="M69.3 10.8 L69.6 12.7 L69.9 14.6 L70.2 16.5 L70.5 18.4 L70.8 20.4 L71.1 22.3 L71.3 24.2 L71.6 26.1 L71.9 28.0 L72.2 29.9 L72.5 31.8 L72.8 33.7 L73.1 35.6 L73.4 37.5 L73.7 39.4 L74.0 41.3 L74.3 43.2 L74.6 45.1 L74.9 47.0 L75.2 48.9 L75.5 50.8 L75.8 52.7 L76.1 54.6 L76.4 56.5 L76.7 58.4 L77.0 60.3 L77.3 62.2 L77.6 64.1 L77.9 66.0 L78.2 67.9 L78.5 69.8 L78.8 71.7 L79.1 73.6 L79.4 75.5 L79.7 77.4 L80.0 79.3 L80.3 81.2 L80.6 83.1 L80.9 85.0 L81.2 86.9 L81.5 88.8 L81.8 90.7 L82.1 92.6 L82.4 94.5 L82.7 96.4 L83.0 98.3 L83.2 100.2 L83.5 102.1 L83.8 104.0 L84.1 105.9 L84.4 107.8 L84.7 109.7 L85.0 111.6 L85.2 113.5 L85.5 115.4 L85.8 117.3 L86.1 119.2 L86.4 121.1 L86.6 123.0 L86.9 124.9 L87.2 126.8 L87.5 128.7 L87.7 130.6 L88.0 132.5 L88.3 134.4 L88.5 136.3 L88.8 138.2 L89.1 140.1 L89.3 142.0 L89.6 143.9 L89.9 145.8 L90.1 147.7 L90.4 149.6 L90.6 151.5 L90.9 153.4 L91.1 155.3 L91.4 157.2 L91.6 159.2 L91.9 161.1 L92.1 163.0 L92.4 164.9 L92.7 166.8 L92.9 168.7 L93.2 170.6 L93.5 172.5 L93.8 174.4 L94.1 176.3 L94.4 178.2 L94.7 180.1 L95.0 182.0 L95.3 183.9 L95.7 185.8 L96.0 187.7 L96.4 189.6 L96.8 191.5 L97.2 193.4 L97.6 195.3 L98.0 197.1 L98.4 199.0 L98.9 200.9 L99.3 202.8 L99.8 204.6 L100.3 206.5 L100.9 208.4 L101.4 210.2 L102.0 212.1 L102.6 213.9 L103.2 215.8 L103.8 217.6 L104.4 219.5 L105.1 221.3 L105.8 223.1 L106.5 224.9 L107.3 226.7 L108.0 228.5 L108.8 230.3 L109.6 232.1 L110.4 233.8 L111.2 235.6 L112.1 237.3 L113.0 239.1 L113.9 240.8 L114.8 242.5 L115.8 244.2 L116.7 245.8 L117.7 247.5 L118.7 249.1 L119.8 250.7 L120.8 252.3 L121.9 253.9 L123.0 255.5 L124.1 257.0 L125.3 258.6 L126.4 260.1 L127.6 261.6 L128.8 263.0 L130.1 264.5 L131.3 265.9 L132.6 267.3 L133.9 268.6 L135.2 270.0 L136.6 271.3 L137.9 272.6 L139.3 273.9 L140.7 275.1 L142.2 276.3 L143.6 277.5 L145.1 278.6 L146.6 279.8 L148.1 280.9 L149.7 281.9 L151.2 283.0 L152.8 284.0 L154.4 284.9 L156.1 285.9 L157.7 286.8 L159.4 287.7 L161.1 288.5 L162.8 289.3 L164.5 290.1 L166.3 290.9 L168.0 291.7 L169.8 292.4 L171.6 293.1 L173.4 293.8 L175.2 294.5 L177.0 295.1 L178.8 295.7 L180.6 296.3 L182.5 296.9 L184.3 297.5 L186.2 298.1 L188.1 298.6 L189.9 299.1 L191.8 299.6 L193.7 300.1 L195.5 300.6 L197.4 301.1 L199.3 301.6 L201.2 302.0 L203.1 302.4 L205.0 302.9 L206.9 303.3 L208.8 303.7 L210.7 304.1 L212.6 304.5 L214.5 304.9 L216.4 305.3 L218.3 305.6 L220.2 306.0 L222.1 306.4 L224.0 306.7 L225.9 307.1 L227.8 307.4 L229.7 307.8 L231.6 308.1 L233.5 308.5 L235.4 308.8 L237.3 309.1 L239.2 309.5 L241.2 309.8 L243.1 310.2 L245.0 310.5 L246.9 310.9 L248.8 311.2 L250.7 311.6 L252.6 311.9 L254.5 312.3 L256.4 312.7 L258.2 313.0 L260.1 313.4 L262.0 313.8 L263.9 314.2 L265.8 314.6 L267.7 315.0 L269.5 315.4 L271.4 315.8 L273.3 316.2 L275.1 316.7 L277.0 317.1 L278.9 317.5 L280.7 317.9 L282.6 318.4 L284.5 318.8 L286.3 319.2 L288.2 319.7 L290.1 320.1 L291.9 320.5 L293.8 321.0 L295.7 321.4 L297.5 321.8 L299.4 322.2 L301.3 322.6 L303.1 323.0 L305.0 323.4 L306.9 323.8 L308.7 324.2 L310.6 324.6 L312.5 324.9 L314.4 325.3 L316.3 325.6 L318.1 326.0 L320.0 326.3 L321.9 326.7 L323.8 327.0 L325.7 327.3 L327.6 327.6 L329.5 328.0 L331.3 328.3 L333.2 328.6 L335.1 328.9 L337.0 329.2 L338.9 329.4 L340.8 329.7 L342.7 330.0 L344.6 330.3 L346.5 330.5 L348.4 330.8 L350.3 331.1 L352.2 331.3 L354.1 331.6 L356.1 331.8 L358.0 332.1 L359.9 332.3 L361.8 332.5 L363.7 332.8 L365.6 333.0 L367.5 333.2 L369.4 333.4 L371.3 333.6 L373.3 333.8 L375.2 334.1 L377.1 334.3 L379.0 334.5 L380.9 334.7 L382.9 334.9 L384.8 335.1 L386.7 335.2 L388.6 335.4 L390.5 335.6 L392.5 335.8 L394.4 336.0 L396.3 336.2 L398.2 336.4 L400.1 336.5 L402.1 336.7 L404.0 336.9 L405.9 337.1 L407.8 337.3 L409.8 337.4 L411.7 337.6 L413.6 337.8 L415.5 338.0 L417.4 338.2 L419.4 338.4 L421.3 338.6 L423.2 338.8 L425.1 338.9 L427.0 339.1 L429.0 339.3 L430.9 339.5 L432.8 339.8 L434.7 340.0 L436.6 340.2 L438.5 340.4 L440.5 340.6 L442.4 340.8 L444.3 341.1 L446.2 341.3 L448.1 341.6 L450.0 341.8 L451.9 342.1 L453.8 342.3 L455.7 342.6 L457.6 342.9 L459.5 343.1 L461.4 343.4 L463.3 343.7 L465.2 344.0" style="stroke-width:1.4"/>
<path d="M69.3 10.8 L69.7 12.7 L70.0 14.6 L70.4 16.5 L70.8 18.4 L71.1 20.3 L71.5 22.2 L71.8 24.1 L72.2 26.0 L72.5 27.9 L72.8 29.8 L73.2 31.7 L73.5 33.6 L73.8 35.5 L74.1 37.4 L74.4 39.3 L74.7 41.2 L75.0 43.1 L75.3 45.0 L75.6 47.0 L75.9 48.9 L76.2 50.8 L76.5 52.7 L76.8 54.6 L77.1 56.5 L77.3 58.5 L77.6 60.4 L77.9 62.3 L78.1 64.2 L78.4 66.2 L78.7 68.1 L78.9 70.0 L79.2 71.9 L79.5 73.8 L79.7 75.8 L80.0 77.7 L80.2 79.6 L80.5 81.6 L80.7 83.5 L81.0 85.4 L81.3 87.3 L81.5 89.3 L81.8 91.2 L82.0 93.1 L82.3 95.0 L82.5 97.0 L82.8 98.9 L83.0 100.8 L83.3 102.8 L83.5 104.7 L83.8 106.6 L84.0 108.5 L84.3 110.5 L84.5 112.4 L84.8 114.3 L85.0 116.2 L85.3 118.2 L85.5 120.1 L85.8 122.0 L86.1 123.9 L86.3 125.9 L86.6 127.8 L86.9 129.7 L87.1 131.6 L87.4 133.6 L87.7 135.5 L88.0 137.4 L88.2 139.3 L88.5 141.2 L88.8 143.2 L89.1 145.1 L89.4 147.0 L89.7 148.9 L90.0 150.8 L90.3 152.7 L90.6 154.6 L90.9 156.6 L91.2 158.5 L91.6 160.4 L91.9 162.3 L92.2 164.2 L92.5 166.1 L92.9 168.0 L93.2 169.9 L93.6 171.8 L93.9 173.7 L94.3 175.6 L94.6 177.5 L95.0 179.4 L95.4 181.3 L95.8 183.2 L96.1 185.1 L96.5 187.0 L96.9 188.8 L97.3 190.7 L97.7 192.6 L98.2 194.5 L98.6 196.4 L99.0 198.2 L99.5 200.1 L99.9 202.0 L100.3 203.9 L100.8 205.7 L101.3 207.6 L101.7 209.5 L102.2 211.3 L102.7 213.2 L103.2 215.1 L103.7 216.9 L104.2 218.8 L104.8 220.6 L105.3 222.4 L105.9 224.3 L106.5 226.1 L107.1 227.9 L107.7 229.8 L108.3 231.6 L109.0 233.4 L109.7 235.2 L110.4 237.0 L111.1 238.8 L111.9 240.6 L112.6 242.3 L113.4 244.1 L114.3 245.9 L115.1 247.6 L116.0 249.3 L117.0 251.1 L117.9 252.8 L118.9 254.5 L119.9 256.1 L120.9 257.8 L122.0 259.5 L123.0 261.1 L124.2 262.7 L125.3 264.3 L126.5 265.9 L127.6 267.5 L128.9 269.0 L130.1 270.5 L131.4 272.0 L132.7 273.5 L134.0 274.9 L135.3 276.3 L136.7 277.7 L138.1 279.1 L139.5 280.4 L140.9 281.7 L142.4 282.9 L143.9 284.1 L145.4 285.3 L147.0 286.4 L148.5 287.5 L150.1 288.6 L151.7 289.6 L153.4 290.5 L155.0 291.5 L156.7 292.3 L158.4 293.2 L160.1 294.0 L161.9 294.8 L163.6 295.5 L165.4 296.2 L167.2 296.9 L169.0 297.6 L170.8 298.2 L172.7 298.8 L174.5 299.4 L176.4 299.9 L178.2 300.4 L180.1 301.0 L182.0 301.5 L183.9 301.9 L185.7 302.4 L187.6 302.8 L189.6 303.3 L191.5 303.7 L193.4 304.1 L195.3 304.6 L197.2 305.0 L199.1 305.4 L201.0 305.8 L202.9 306.2 L204.8 306.6 L206.7 307.0 L208.6 307.3 L210.6 307.7 L212.5 308.1 L214.4 308.5 L216.3 308.9 L218.2 309.3 L220.1 309.6 L222.0 310.0 L223.9 310.4 L225.8 310.7 L227.7 311.1 L229.6 311.5 L231.5 311.8 L233.4 312.2 L235.3 312.5 L237.2 312.9 L239.1 313.3 L241.0 313.6 L242.9 314.0 L244.8 314.3 L246.7 314.6 L248.6 315.0 L250.5 315.3 L252.4 315.7 L254.3 316.0 L256.2 316.4 L258.1 316.7 L260.0 317.0 L261.9 317.4 L263.8 317.7 L265.7 318.0 L267.6 318.3 L269.5 318.7 L271.4 319.0 L273.3 319.3 L275.2 319.7 L277.1 320.0 L279.0 320.3 L281.0 320.6 L282.9 320.9 L284.8 321.3 L286.7 321.6 L288.6 321.9 L290.5 322.2 L292.4 322.5 L294.3 322.8 L296.2 323.1 L298.1 323.5 L300.0 323.8 L301.9 324.1 L303.9 324.4 L305.8 324.7 L307.7 325.0 L309.6 325.3 L311.5 325.6 L313.4 325.9 L315.3 326.2 L317.2 326.5 L319.2 326.8 L321.1 327.1 L323.0 327.4 L324.9 327.7 L326.8 327.9 L328.7 328.2 L330.6 328.5 L332.6 328.8 L334.5 329.1 L336.4 329.4 L338.3 329.7 L340.2 329.9 L342.1 330.2 L344.1 330.5 L346.0 330.8 L347.9 331.1 L349.8 331.3 L351.7 331.6 L353.6 331.9 L355.6 332.2 L357.5 332.4 L359.4 332.7 L361.3 333.0 L363.2 333.2 L365.2 333.5 L367.1 333.8 L369.0 334.0 L370.9 334.3 L372.8 334.5 L374.8 334.8 L376.7 335.1 L378.6 335.3 L380.5 335.6 L382.4 335.8 L384.4 336.1 L386.3 336.3 L388.2 336.6 L390.1 336.8 L392.1 337.1 L394.0 337.3 L395.9 337.6 L397.8 337.8 L399.7 338.0 L401.7 338.3 L403.6 338.5 L405.5 338.8 L407.4 339.0 L409.4 339.2 L411.3 339.5 L413.2 339.7 L415.1 339.9 L417.1 340.2 L419.0 340.4 L420.9 340.6 L422.8 340.8 L424.8 341.1 L426.7 341.3 L428.6 341.5 L430.5 341.7 L432.5 342.0 L434.4 342.2 L436.3 342.4 L438.2 342.6 L440.2 342.8 L442.1 343.0 L444.0 343.2 L445.9 343.5 L447.9 343.7 L449.8 343.9 L451.7 344.1 L453.6 344.3 L455.6 344.5 L457.5 344.7 L459.4 344.9 L461.3 345.1 L463.3 345.3 L465.2 345.5" style="stroke-width:1.4"/>
<path d="M69.3 10.8 L69.6 12.7 L69.9 14.7 L70.2 16.6 L70.5 18.5 L70.7 20.5 L71.0 22.4 L71.3 24.3 L71.6 26.3 L71.9 28.2 L72.2 30.1 L72.5 32.1 L72.8 34.0 L73.1 35.9 L73.4 37.9 L73.7 39.8 L74.0 41.8 L74.3 43.7 L74.6 45.6 L74.9 47.6 L75.2 49.5 L75.5 51.5 L75.8 53.4 L76.1 55.4 L76.4 57.3 L76.7 59.2 L77.0 61.2 L77.3 63.1 L77.6 65.1 L77.9 67.0 L78.2 69.0 L78.5 70.9 L78.8 72.9 L79.1 74.8 L79.5 76.8 L79.8 78.7 L80.1 80.7 L80.4 82.6 L80.7 84.6 L81.0 86.5 L81.3 88.5 L81.6 90.4 L81.9 92.4 L82.2 94.3 L82.5 96.3 L82.8 98.2 L83.1 100.2 L83.4 102.1 L83.7 104.0 L84.0 106.0 L84.3 107.9 L84.6 109.9 L84.9 111.8 L85.2 113.8 L85.5 115.7 L85.8 117.7 L86.1 119.6 L86.4 121.6 L86.7 123.5 L87.0 125.5 L87.3 127.4 L87.5 129.3 L87.8 131.3 L88.1 133.2 L88.4 135.2 L88.7 137.1 L89.0 139.0 L89.3 141.0 L89.6 142.9 L89.8 144.9 L90.1 146.8 L90.4 148.7 L90.7 150.7 L91.0 152.6 L91.2 154.5 L91.5 156.5 L91.8 158.4 L92.1 160.3 L92.3 162.3 L92.6 164.2 L92.9 166.1 L93.2 168.1 L93.5 170.0 L93.8 171.9 L94.1 173.8 L94.4 175.8 L94.7 177.7 L95.0 179.6 L95.3 181.5 L95.6 183.4 L95.9 185.4 L96.3 187.3 L96.6 189.2 L96.9 191.1 L97.3 193.0 L97.7 195.0 L98.0 196.9 L98.4 198.8 L98.8 200.7 L99.2 202.6 L99.6 204.5 L100.0 206.5 L100.5 208.4 L100.9 210.3 L101.4 212.2 L101.9 214.1 L102.3 216.0 L102.8 217.9 L103.3 219.8 L103.9 221.7 L104.4 223.6 L105.0 225.5 L105.5 227.4 L106.1 229.3 L106.7 231.2 L107.4 233.1 L108.0 235.0 L108.7 236.9 L109.3 238.8 L110.0 240.7 L110.8 242.6 L111.5 244.4 L112.3 246.3 L113.1 248.1 L113.9 249.9 L114.7 251.7 L115.6 253.5 L116.5 255.3 L117.4 257.1 L118.4 258.8 L119.3 260.6 L120.4 262.3 L121.4 263.9 L122.5 265.6 L123.6 267.2 L124.7 268.8 L125.9 270.4 L127.1 271.9 L128.3 273.4 L129.6 274.8 L130.9 276.2 L132.2 277.6 L133.6 278.9 L135.0 280.2 L136.5 281.4 L138.0 282.6 L139.5 283.7 L141.1 284.8 L142.7 285.8 L144.3 286.9 L145.9 287.9 L147.6 288.8 L149.3 289.7 L151.0 290.6 L152.7 291.5 L154.4 292.4 L156.2 293.2 L158.0 294.0 L159.7 294.8 L161.5 295.6 L163.3 296.4 L165.1 297.1 L166.9 297.9 L168.8 298.7 L170.6 299.4 L172.4 300.2 L174.2 300.9 L176.0 301.7 L177.9 302.4 L179.7 303.1 L181.5 303.9 L183.3 304.6 L185.2 305.4 L187.0 306.1 L188.8 306.9 L190.7 307.6 L192.5 308.3 L194.3 309.0 L196.1 309.8 L198.0 310.5 L199.8 311.2 L201.6 311.9 L203.5 312.7 L205.3 313.4 L207.2 314.1 L209.0 314.8 L210.8 315.5 L212.7 316.2 L214.5 316.9 L216.4 317.6 L218.2 318.3 L220.0 319.0 L221.9 319.7 L223.7 320.4 L225.6 321.1 L227.4 321.7 L229.3 322.4 L231.1 323.1 L233.0 323.7 L234.8 324.4 L236.7 325.1 L238.6 325.7 L240.4 326.4 L242.3 327.0 L244.1 327.7 L246.0 328.3 L247.9 328.9 L249.7 329.6 L251.6 330.2 L253.5 330.8 L255.3 331.4 L257.2 332.0 L259.1 332.6 L260.9 333.2 L262.8 333.8 L264.7 334.4 L266.5 335.0 L268.4 335.6 L270.3 336.2 L272.2 336.7 L274.1 337.3 L275.9 337.9 L277.8 338.4 L279.7 339.0 L281.6 339.5 L283.5 340.0 L285.4 340.6 L287.3 341.1 L289.2 341.6 L291.0 342.1 L292.9 342.6 L294.8 343.1 L296.7 343.6 L298.6 344.1 L300.5 344.6 L302.4 345.0 L304.3 345.5 L306.2 345.9 L308.1 346.4 L310.1 346.8 L312.0 347.3 L313.9 347.7 L315.8 348.1 L317.7 348.6 L319.6 349.0 L321.5 349.4 L323.4 349.8 L325.4 350.2 L327.3 350.6 L329.2 350.9 L331.1 351.3 L333.0 351.7 L335.0 352.1 L336.9 352.4 L338.8 352.8 L340.8 353.1 L342.7 353.5 L344.6 353.8 L346.5 354.2 L348.5 354.5 L350.4 354.8 L352.3 355.1 L354.3 355.5 L356.2 355.8 L358.1 356.1 L360.1 356.4 L362.0 356.7 L364.0 357.0 L365.9 357.3 L367.8 357.6 L369.8 357.9 L371.7 358.2 L373.7 358.5 L375.6 358.7 L377.5 359.0 L379.5 359.3 L381.4 359.6 L383.4 359.8 L385.3 360.1 L387.3 360.4 L389.2 360.6 L391.2 360.9 L393.1 361.2 L395.0 361.4 L397.0 361.7 L398.9 361.9 L400.9 362.2 L402.8 362.4 L404.8 362.7 L406.7 362.9 L408.7 363.2 L410.6 363.4 L412.6 363.7 L414.5 363.9 L416.5 364.1 L418.4 364.4 L420.4 364.6 L422.3 364.9 L424.3 365.1 L426.2 365.3 L428.2 365.6 L430.1 365.8 L432.1 366.1 L434.0 366.3 L436.0 366.6 L437.9 366.8 L439.9 367.0 L441.8 367.3 L443.8 367.5 L445.7 367.8 L447.7 368.0 L449.6 368.3 L451.6 368.5 L453.5 368.8 L455.5 369.0 L457.4 369.3 L459.4 369.5 L461.3 369.8 L463.3 370.0 L465.2 370.3" style="stroke-width:1.6"/>
</g>
<path d="M68.6 11.0 L74.0 48.0 L79.5 85.0 L84.3 120.0 L88.1 150.0 L91.4 172.0 L94.1 190.0 L98.2 208.0 L102.4 222.0 L106.0 232.0 L107.2 232.0 L105.6 222.0 L103.4 208.0 L99.9 190.0 L96.6 172.0 L92.7 150.0 L87.7 120.0 L82.1 85.0 L76.0 48.0 L70.0 11.0 Z" fill="#000"/>
<path d="M69.5 10.8 L515.4 11.5 L515.0 405.0 L68.8 404.1 Z" fill="none" stroke="#000" stroke-width="2.5" stroke-linejoin="miter"/>
<g stroke="#000" stroke-width="1.9">
<line x1="68.8" y1="404.1" x2="68.8" y2="410.1"/>
<line x1="167.9" y1="404.3" x2="167.9" y2="410.3"/>
<line x1="267.0" y1="404.5" x2="267.0" y2="410.5"/>
<line x1="366.1" y1="404.7" x2="366.1" y2="410.7"/>
<line x1="465.2" y1="404.9" x2="465.2" y2="410.9"/>
<line x1="63.5" y1="404.3" x2="68.8" y2="404.3"/>
<line x1="64.9" y1="364.9" x2="68.9" y2="364.9"/>
<line x1="63.6" y1="325.5" x2="68.9" y2="325.5"/>
<line x1="65.0" y1="286.0" x2="69.0" y2="286.0"/>
<line x1="63.8" y1="246.6" x2="69.1" y2="246.6"/>
<line x1="65.2" y1="207.2" x2="69.2" y2="207.2"/>
<line x1="63.9" y1="167.8" x2="69.2" y2="167.8"/>
<line x1="65.3" y1="128.3" x2="69.3" y2="128.3"/>
<line x1="64.1" y1="88.9" x2="69.4" y2="88.9"/>
<line x1="65.4" y1="49.5" x2="69.4" y2="49.5"/>
<line x1="64.2" y1="10.1" x2="69.5" y2="10.1"/>
</g>
<g font-size="20" fill="#000" stroke="#000" stroke-width="0.45">
<text x="48.2" y="411.4" textLength="11.8" lengthAdjust="spacingAndGlyphs">0</text>
<text x="36.4" y="332.6" textLength="23.6" lengthAdjust="spacingAndGlyphs">20</text>
<text x="36.4" y="253.7" textLength="23.6" lengthAdjust="spacingAndGlyphs">40</text>
<text x="36.4" y="174.9" textLength="23.6" lengthAdjust="spacingAndGlyphs">60</text>
<text x="36.4" y="96.0" textLength="23.6" lengthAdjust="spacingAndGlyphs">80</text>
<text x="26.7" y="17.2" textLength="32.5" lengthAdjust="spacingAndGlyphs">100</text>
<text x="64.7" y="437.6" textLength="11.8" lengthAdjust="spacingAndGlyphs">0</text>
<text x="165.1" y="437.6" textLength="11.8" lengthAdjust="spacingAndGlyphs">1</text>
<text x="262.9" y="437.6" textLength="11.8" lengthAdjust="spacingAndGlyphs">2</text>
<text x="362.0" y="437.6" textLength="11.8" lengthAdjust="spacingAndGlyphs">3</text>
<text x="461.1" y="437.6" textLength="11.8" lengthAdjust="spacingAndGlyphs">4</text>
</g>
<text x="137.4" y="472.3" font-size="22" textLength="269.3" lengthAdjust="spacingAndGlyphs" stroke="#000" stroke-width="0.45">Time after RBC injection (h)</text>
<text transform="translate(20.8 293.2) rotate(-90)" font-size="22" textLength="170" lengthAdjust="spacingAndGlyphs" stroke="#000" stroke-width="0.45">RBC survival (%)</text>
<path d="M118.90 244.00 L124.10 257.00 L113.70 257.00 Z" fill="#000"/><path d="M118.90 249.92 L120.85 254.80 L116.95 254.80 Z" fill="#b4b4b4"/>
<ellipse cx="118.90" cy="245.80" rx="4.90" ry="5.90" fill="#000"/>
<rect x="114.10" y="262.50" width="9.20" height="12.60" fill="#000"/>
<rect x="114.20" y="225.00" width="9.80" height="13.00" fill="#000"/>
<ellipse cx="118.70" cy="232.00" rx="2.80" ry="4.40" fill="#000"/><ellipse cx="118.70" cy="232.00" rx="2.80" ry="4.40" fill="#b4b4b4"/>
<rect x="114.65" y="206.25" width="9.10" height="11.90" fill="#000"/><rect x="116.25" y="207.85" width="5.90" height="8.70" fill="#fff"/>
<path d="M118.3 212.4 L122.2 217.6" stroke="#000" stroke-width="1.5" fill="none"/>
<ellipse cx="167.50" cy="230.30" rx="4.80" ry="6.00" fill="#000"/>
<rect x="262.20" y="356.60" width="9.60" height="13.00" fill="#000"/>
<path d="M266.80 321.10 L271.80 326.60 L266.80 332.10 L261.80 326.60 Z" fill="#000"/><path d="M266.80 324.67 L268.56 326.60 L266.80 328.53 L265.04 326.60 Z" fill="#fff"/>
<path d="M267.00 329.60 L272.00 340.60 L262.00 340.60 Z" fill="#000"/><path d="M267.00 335.16 L268.43 338.30 L265.57 338.30 Z" fill="#b4b4b4"/>
<ellipse cx="266.80" cy="319.00" rx="4.30" ry="5.00" fill="#000"/>
<path d="M266.80 308.30 L271.30 315.80 L266.80 323.30 L262.30 315.80 Z" fill="#000"/>
<rect x="262.20" y="282.00" width="9.60" height="12.00" fill="#000"/><rect x="263.70" y="283.50" width="6.60" height="9.00" fill="#fff"/>
<rect x="262.20" y="284.10" width="9.60" height="12.60" fill="#000"/><rect x="263.90" y="285.80" width="6.20" height="9.20" fill="#b4b4b4"/>
<ellipse cx="266.80" cy="302.60" rx="4.30" ry="5.60" fill="#000"/><ellipse cx="266.80" cy="302.60" rx="2.70" ry="4.00" fill="#b4b4b4"/>
<ellipse cx="267.00" cy="273.80" rx="4.80" ry="6.00" fill="#000"/>
<rect x="460.10" y="378.30" width="10.20" height="13.00" fill="#000"/>
<ellipse cx="465.20" cy="370.30" rx="4.90" ry="6.30" fill="#000"/>
<path d="M465.20 367.00 L468.00 376.00 L462.40 376.00 Z" fill="#000"/><path d="M465.20 367.00 L468.00 376.00 L462.40 376.00 Z" fill="#b4b4b4"/>
<path d="M465.20 352.45 L470.20 358.70 L465.20 364.95 L460.20 358.70 Z" fill="#000"/><path d="M465.20 355.49 L467.77 358.70 L465.20 361.91 L462.63 358.70 Z" fill="#fff"/>
<ellipse cx="465.20" cy="338.70" rx="4.70" ry="5.30" fill="#000"/><ellipse cx="465.20" cy="338.70" rx="2.70" ry="3.30" fill="#b4b4b4"/>
<rect x="460.60" y="325.20" width="9.20" height="12.40" fill="#000"/><rect x="462.10" y="326.70" width="6.20" height="9.40" fill="#fff"/>
<path d="M465.20 339.50 L470.40 351.00 L460.00 351.00 Z" fill="#000"/><path d="M465.20 344.35 L467.30 349.00 L463.10 349.00 Z" fill="#fff"/>
<path d="M465.20 338.50 L470.20 343.00 L465.20 347.50 L460.20 343.00 Z" fill="#000"/>
<rect x="460.40" y="300.35" width="9.60" height="12.90" fill="#000"/><rect x="462.40" y="302.35" width="5.60" height="8.90" fill="#b4b4b4"/>
<ellipse cx="465.10" cy="294.70" rx="4.80" ry="5.80" fill="#000"/>
<rect x="64.35" y="3.95" width="9.70" height="12.90" fill="#000"/>
<g stroke="#000" fill="none">
<path d="M243 35.2 h5.8 M255 35.2 h8 M278.4 35.2 h5.6" stroke-width="2.6"/>
<path d="M244.5 57.7 H289" stroke-width="1.2"/>
<path d="M244 81.2 H262 M278.6 81.2 h5.1" stroke-width="2.0"/>
<path d="M244.5 104.0 H262 M279.4 104.0 h4.3" stroke-width="1.3"/>
<path d="M244.5 127.6 H289" stroke-width="1.5"/>
<path d="M360.3 35.2 H404.7" stroke-width="1.4"/>
<path d="M360.3 57.8 H379 M395.4 57.8 h4.4" stroke-width="1.6"/>
<path d="M362.4 81.8 H379 M388 81.8 h2 M397.2 81.8 h4.4" stroke-width="1.3"/>
<path d="M360.6 104.7 H406.5" stroke-width="2.1"/>
<path d="M361.2 127.5 h4 M373.3 127.5 h5 M395.8 127.5 h4.6" stroke-width="1.8"/>
</g>
<ellipse cx="266.50" cy="35.20" rx="5.70" ry="5.40" fill="#000"/>
<rect x="261.00" y="52.10" width="11.00" height="10.60" fill="#000"/><rect x="262.50" y="53.60" width="8.00" height="7.60" fill="#b4b4b4"/>
<rect x="260.60" y="75.20" width="10.80" height="10.80" fill="#000"/><rect x="262.50" y="77.10" width="7.00" height="7.00" fill="#fff"/>
<path d="M268.2 81.2 h3" stroke="#000" stroke-width="1.8"/>
<ellipse cx="265.80" cy="103.30" rx="4.60" ry="4.60" fill="#000"/><ellipse cx="265.80" cy="103.30" rx="3.00" ry="3.00" fill="#b4b4b4"/>
<path d="M266.10 121.10 L272.60 127.60 L266.10 134.10 L259.60 127.60 Z" fill="#000"/>
<path d="M383.30 29.20 L389.50 41.60 L377.10 41.60 Z" fill="#000"/><path d="M383.30 33.67 L386.26 39.60 L380.34 39.60 Z" fill="#fff"/>
<path d="M379.8 35.5 h7" stroke="#000" stroke-width="1.3"/>
<path d="M383.30 51.60 L389.50 57.70 L383.30 63.80 L377.10 57.70 Z" fill="#000"/><path d="M383.30 54.55 L386.51 57.70 L383.30 60.85 L380.09 57.70 Z" fill="#fff"/>
<path d="M383.40 75.80 L389.40 87.80 L377.40 87.80 Z" fill="#000"/><path d="M383.40 79.82 L386.49 86.00 L380.31 86.00 Z" fill="#b4b4b4"/>
<ellipse cx="383.10" cy="104.50" rx="5.80" ry="5.40" fill="#000"/>
<rect x="377.30" y="122.20" width="11.60" height="10.80" fill="#000"/>
<g font-size="17.6" fill="#000" stroke="#000" stroke-width="0.45">
<text x="297.6" y="42.2">IVIg</text>
<text x="293.3" y="65.1">19A5</text>
<text x="293.3" y="88.8">13D2</text>
<text x="293.3" y="110.6">24A5</text>
<text x="293.3" y="134.3">13E10</text>
<text x="409.3" y="42.6">21H9</text>
<text x="409.3" y="65.0">26C1</text>
<text x="411.3" y="88.9">25F5</text>
<text x="409.8" y="111.5">46E7</text>
<text x="409.8" y="133.8" textLength="85.2" lengthAdjust="spacingAndGlyphs">poly anti-D</text>
</g>
</svg>
</body></html>
